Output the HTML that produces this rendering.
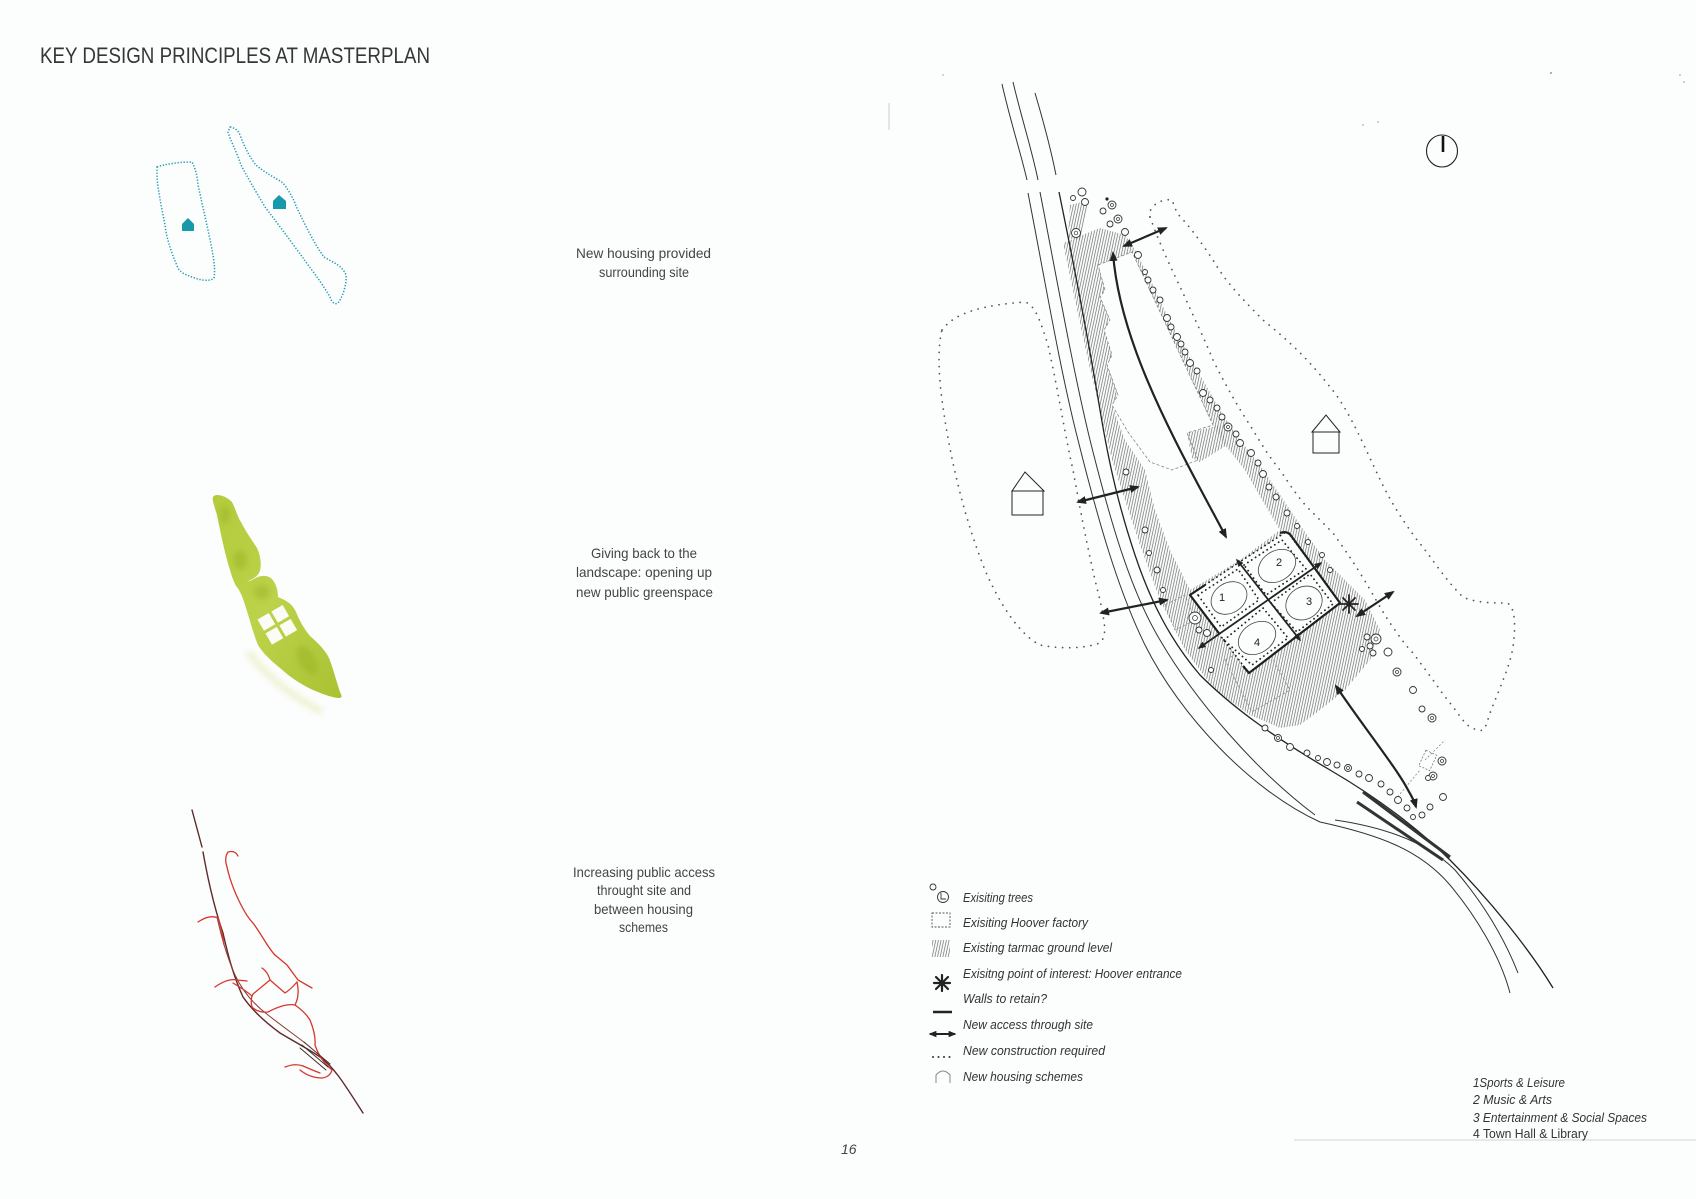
<!DOCTYPE html>
<html><head><meta charset="utf-8"><style>
html,body{margin:0;padding:0;background:#fcfdfd;}
svg{display:block;}
text{font-family:"Liberation Sans",sans-serif;}
</style></head><body>
<svg width="1696" height="1199" viewBox="0 0 1696 1199" xmlns="http://www.w3.org/2000/svg">
<defs>
<pattern id="h" width="2.6" height="8" patternUnits="userSpaceOnUse" patternTransform="rotate(12)">
<line x1="0.6" y1="0" x2="0.6" y2="8" stroke="#6a6a6a" stroke-width="0.7"/>
</pattern>
<marker id="ah" viewBox="0 0 10 8" refX="8" refY="4" markerWidth="10" markerHeight="8" markerUnits="userSpaceOnUse" orient="auto-start-reverse">
<path d="M0,0 L10,4 L0,8 z" fill="#222"/>
</marker>
<marker id="ahs" viewBox="0 0 10 8" refX="8" refY="4" markerWidth="8" markerHeight="6.5" markerUnits="userSpaceOnUse" orient="auto-start-reverse">
<path d="M0,0 L10,4 L0,8 z" fill="#222"/>
</marker>
<linearGradient id="gg" x1="0" y1="0" x2="1" y2="1">
<stop offset="0" stop-color="#b3cb3c"/><stop offset="0.5" stop-color="#bcd24a"/><stop offset="1" stop-color="#a9c232"/>
</linearGradient>
<filter id="bl"><feGaussianBlur stdDeviation="3"/></filter>
</defs>

<rect width="1696" height="1199" fill="#fcfdfd"/>

<!-- Title -->
<text x="40" y="63" font-size="22" fill="#363636" textLength="390" lengthAdjust="spacingAndGlyphs">KEY DESIGN PRINCIPLES AT MASTERPLAN</text>

<!-- Blue housing diagram -->
<g fill="none" stroke="#1f9cb2" stroke-width="1.5" stroke-dasharray="1.3 1.7">
<path d="M157,167 C165,164 180,162 192,162 C196,170 197,175 198,185 L208,230 C212,250 216,265 214,278 C210,282 200,280 195,278 C185,275 180,272 178,268 C170,250 166,235 165,225 C161,205 158,190 157,177 Z"/>
<path d="M230,127 C235,128 238,130 240,135 C245,148 250,158 256,165 C265,173 276,178 283,183 C290,192 294,200 296,206 C305,225 315,245 324,257 C332,262 342,265 346,275 C347,285 342,298 338,303 C334,305 332,302 330,297 C320,280 310,268 303,258 C290,240 275,220 265,207 C255,190 246,175 241,165 C236,150 230,140 228,132 Z"/>
</g>
<path d="M182,231 L182,224 L188,218 L194,224 L194,231 Z" fill="#1798ab"/>
<path d="M273,209 L273,201 L279,195 L286,201 L286,209 Z" fill="#1798ab"/>

<text font-size="14" fill="#444">
<tspan x="576" y="258" textLength="135" lengthAdjust="spacingAndGlyphs">New housing provided</tspan>
</text>
<text x="599" y="277" font-size="14" fill="#444" textLength="90" lengthAdjust="spacingAndGlyphs">surrounding site</text>

<!-- Green diagram -->
<path d="M248,652 C265,675 290,695 322,712" stroke="#e9efc4" stroke-width="7" fill="none" opacity="0.7" filter="url(#bl)"/>
<path d="M213,497 C215,493 225,495 232,502 C236,510 238,518 241,522 C246,532 252,540 257,548 C261,556 262,568 259,573 C256,578 250,580 247,582 L252,580 C258,576 265,574 271,578 C276,583 278,590 278,597 C285,600 292,603 296,612 C300,622 305,630 310,636 C318,643 325,650 329,658 C333,668 336,680 340,692 C342,696 343,698 338,698 C330,697 320,693 313,690 C300,684 290,677 280,668 C270,660 262,652 258,645 C253,633 250,620 246,608 C243,598 240,590 236,586 C232,578 230,570 227,560 C223,545 220,530 217,515 C214,505 212,500 213,497 Z" fill="url(#gg)"/>
<g fill="#94b024" opacity="0.45" filter="url(#bl)">
<ellipse cx="240" cy="560" rx="7" ry="10"/>
<ellipse cx="262" cy="592" rx="8" ry="7"/>
<ellipse cx="307" cy="660" rx="8" ry="16" transform="rotate(-30 307 660)"/>
<ellipse cx="225" cy="515" rx="5" ry="9"/>
</g>
<g fill="#fbfcf6" transform="rotate(-30 278 625)">
<rect x="263" y="610" width="13" height="13"/>
<rect x="279" y="610" width="13" height="13"/>
<rect x="263" y="626" width="13" height="13"/>
<rect x="279" y="626" width="13" height="13"/>
</g>

<text x="591" y="558" font-size="14" fill="#444" textLength="106" lengthAdjust="spacingAndGlyphs">Giving back to the</text>
<text x="576" y="577" font-size="14" fill="#444" textLength="136" lengthAdjust="spacingAndGlyphs">landscape: opening up</text>
<text x="576" y="597" font-size="14" fill="#444" textLength="137" lengthAdjust="spacingAndGlyphs">new public greenspace</text>

<!-- Red diagram -->
<g fill="none" stroke-linecap="round">
<path d="M192,810 L202,847 M203,852 C208,880 215,910 223,933 C228,955 233,975 243,997 C252,1010 265,1022 280,1033 C295,1042 310,1050 320,1057 C335,1068 345,1085 363,1113" stroke="#5d2b2b" stroke-width="1.4"/>
<path d="M217,917 C221,935 226,955 235,975 C242,990 252,1003 268,1015 C282,1026 296,1036 305,1043" stroke="#8a3a30" stroke-width="1"/>
<g stroke="#d8352c" stroke-width="1.3">
<path d="M198,922 Q210,914 218,918 Q222,930 224,945"/>
<path d="M215,987 Q228,978 237,980 L247,981"/>
<path d="M238,856 Q235,850 228,852 Q224,858 227,867 C232,890 245,915 253,923 C262,935 268,948 275,955"/>
<path d="M275,955 L287,965 L298,980 L312,988"/>
<path d="M262,968 Q268,972 270,980 L285,993 Q290,990 297,982"/>
<path d="M270,980 L253,994 Q250,1000 252,1007 Q258,1013 268,1012 Q285,1003 295,1005 Q305,1012 310,1020 Q316,1035 315,1045 Q320,1060 332,1070 Q330,1077 322,1078 Q310,1078 300,1070"/>
<path d="M233,983 Q245,990 252,996"/>
<path d="M297,982 Q300,995 295,1005"/>
<path d="M285,1067 Q295,1063 303,1066 Q312,1070 320,1073"/>
</g>
<path d="M302,1045 L328,1067 M304,1042 L330,1064 M300,1048 L326,1070" stroke="#4a2a2a" stroke-width="1"/>
</g>

<text x="573" y="877" font-size="14" fill="#444" textLength="142" lengthAdjust="spacingAndGlyphs">Increasing public access</text>
<text x="597" y="895" font-size="14" fill="#444" textLength="94" lengthAdjust="spacingAndGlyphs">throught site and</text>
<text x="594" y="914" font-size="14" fill="#444" textLength="99" lengthAdjust="spacingAndGlyphs">between housing</text>
<text x="619" y="932" font-size="14" fill="#444" textLength="49" lengthAdjust="spacingAndGlyphs">schemes</text>

<text x="841" y="1154" font-size="14" font-style="italic" fill="#444">16</text>

<!-- ===== MAP ===== -->
<!-- hatch -->
<path fill-rule="evenodd" fill="url(#h)" d="M1063,243 L1075,300 L1088,360 L1100,410 L1112,460 L1125,500 L1140,545 L1160,600 L1185,650 L1215,690 L1250,715 L1280,728 L1300,725 L1320,710 L1345,690 L1370,660 L1380,630 L1365,600 L1345,580 L1325,560 L1300,525 L1280,495 L1260,465 L1240,440 L1220,410 L1200,375 L1180,340 L1162,305 L1148,275 L1135,250 L1125,235 L1100,228 Z
M1098,265 L1132,252 L1213,425 L1225,445 L1245,470 L1262,500 L1280,530 L1240,560 L1190,590 L1170,550 L1155,510 L1145,470 L1125,440 L1112,405 L1118,395 L1107,365 L1112,355 L1104,330 L1110,320 L1100,297 L1105,290 Z"/>
<path fill="url(#h)" d="M1187,433 L1220,425 L1227,445 L1200,462 L1192,458 Z"/>
<path fill="url(#h)" d="M1070,205 L1090,200 L1080,240 L1068,238 Z"/>

<!-- factory outline -->
<path d="M1098,265 L1132,252 L1213,425 L1187,433 L1198,460 L1172,470 L1150,462 L1128,432 L1112,405 L1118,395 L1107,365 L1112,355 L1104,330 L1110,320 L1100,297 L1105,290 Z" fill="none" stroke="#777" stroke-width="0.7" stroke-dasharray="3 2"/>
<path d="M1225,660 L1262,640 L1290,690 L1252,712 Z" fill="none" stroke="#888" stroke-width="0.7" stroke-dasharray="3 2"/>
<path d="M1165,605 L1185,595 L1195,620 L1175,630 Z" fill="none" stroke="#888" stroke-width="0.7" stroke-dasharray="3 2"/>

<!-- road lines -->
<g fill="none" stroke="#333" stroke-width="1">
<path d="M1002,84 C1010,120 1020,150 1027,180"/>
<path d="M1013,82 C1022,120 1032,150 1038,180"/>
<path d="M1035,93 C1043,120 1051,150 1056,175"/>
<path d="M1028,193 C1045,280 1060,370 1078,440 C1098,520 1118,590 1145,645 C1180,715 1250,790 1320,822 C1380,835 1420,850 1450,885 C1475,915 1500,955 1510,993"/>
<path d="M1040,192 C1057,280 1073,370 1090,440 C1110,520 1130,590 1160,640 C1195,700 1255,770 1315,815"/>
<path d="M1335,820 C1390,828 1430,845 1455,870 C1485,905 1505,940 1518,973"/>
<path d="M1059,192 C1075,270 1090,350 1100,410 C1110,470 1120,510 1135,555 C1150,600 1170,640 1200,675 C1230,705 1270,735 1330,770 C1390,805 1430,840 1450,860 C1490,900 1530,950 1553,988" stroke="#222" stroke-width="1.3"/>
</g>
<path d="M1363,792 L1450,857 M1357,802 L1443,860" stroke="#333" stroke-width="3" fill="none"/>
<path d="M889,103 L889,130" stroke="#ccc" stroke-width="1"/>

<!-- dotted boundaries -->
<g fill="none" stroke="#555" stroke-width="1.7" stroke-linecap="round" stroke-dasharray="0.1 7">
<path d="M942,330 C955,312 985,305 1025,302 C1035,305 1040,320 1048,345 C1058,390 1066,440 1073,470 C1082,520 1092,570 1100,600 C1104,620 1108,635 1100,643 C1080,650 1055,648 1040,645 C1020,635 1000,605 985,570 C965,520 950,460 942,400 C938,370 938,345 942,330"/>
<path d="M1150,217 C1147,208 1160,198 1172,200 L1177,213 C1185,222 1193,230 1213,260 C1222,275 1230,287 1263,320 C1285,338 1305,355 1330,387 C1347,407 1360,437 1377,473 C1385,490 1393,507 1417,540 C1430,555 1445,580 1463,597 C1475,603 1495,603 1507,603 C1515,606 1516,625 1513,647 C1510,665 1503,680 1490,713 C1487,722 1485,730 1483,730"/>
<path d="M1150,217 C1160,245 1172,270 1183,293 C1195,320 1205,340 1213,360 C1228,390 1240,410 1253,430 C1262,445 1270,458 1280,470 C1290,485 1298,497 1307,507 C1318,518 1325,525 1333,533 C1345,550 1352,560 1360,573 C1372,592 1380,608 1390,623 C1400,637 1405,645 1413,653 C1422,665 1427,672 1433,680 C1440,690 1445,697 1450,703 C1458,713 1463,722 1470,727 C1476,730 1480,731 1483,730"/>
</g>
<path d="M1425,760 L1445,740 M1395,800 L1420,770" stroke="#888" stroke-width="0.8" stroke-dasharray="2 2" fill="none"/>
<rect x="1422" y="752" width="12" height="17" fill="none" stroke="#777" stroke-width="0.8" stroke-dasharray="2 1.5" transform="rotate(25 1428 760)"/>

<!-- trees -->
<g fill="#fcfdfd" stroke="#333" stroke-width="0.9">
<circle cx="1082" cy="192" r="4"/><circle cx="1085" cy="202" r="3.5"/><circle cx="1073" cy="198" r="2.5"/><circle cx="1076" cy="233" r="4.5"/>
<circle cx="1112" cy="205" r="4"/><circle cx="1103" cy="211" r="3"/><circle cx="1118" cy="219" r="4"/><circle cx="1110" cy="224" r="3"/><circle cx="1125" cy="232" r="3.5"/>
<circle cx="1138" cy="255" r="3.5"/><circle cx="1145" cy="272" r="2.5"/><circle cx="1148" cy="280" r="3"/><circle cx="1153" cy="290" r="3"/><circle cx="1160" cy="300" r="3"/>
<circle cx="1167" cy="318" r="3.5"/><circle cx="1171" cy="327" r="3"/><circle cx="1177" cy="337" r="3.5"/><circle cx="1181" cy="344" r="3"/><circle cx="1185" cy="352" r="3"/>
<circle cx="1190" cy="363" r="3.5"/><circle cx="1197" cy="371" r="3"/><circle cx="1203" cy="393" r="3.5"/><circle cx="1210" cy="400" r="3"/><circle cx="1217" cy="408" r="3"/>
<circle cx="1222" cy="417" r="3"/><circle cx="1228" cy="427" r="4"/><circle cx="1236" cy="434" r="3"/><circle cx="1240" cy="443" r="3.5"/><circle cx="1251" cy="453" r="3.5"/>
<circle cx="1258" cy="463" r="3"/><circle cx="1263" cy="474" r="3.5"/><circle cx="1269" cy="487" r="3"/><circle cx="1276" cy="497" r="3"/><circle cx="1287" cy="513" r="3"/>
<circle cx="1297" cy="526" r="2.5"/><circle cx="1308" cy="542" r="2.5"/><circle cx="1322" cy="555" r="2.5"/><circle cx="1330" cy="570" r="2.5"/>
<circle cx="1367" cy="637" r="3"/><circle cx="1376" cy="639" r="5"/><circle cx="1370" cy="646" r="3"/><circle cx="1362" cy="649" r="2.5"/><circle cx="1373" cy="653" r="3"/>
<circle cx="1388" cy="652" r="4"/><circle cx="1397" cy="672" r="4"/><circle cx="1413" cy="690" r="3.5"/><circle cx="1422" cy="709" r="3"/><circle cx="1432" cy="718" r="4"/>
<circle cx="1442" cy="761" r="4"/><circle cx="1433" cy="776" r="4"/><circle cx="1428" cy="778" r="2.5"/><circle cx="1443" cy="797" r="3.5"/><circle cx="1430" cy="807" r="3"/>
<circle cx="1422" cy="815" r="3"/><circle cx="1413" cy="817" r="2.5"/>
<circle cx="1265" cy="728" r="3"/><circle cx="1278" cy="738" r="3.5"/><circle cx="1290" cy="747" r="3.5"/><circle cx="1307" cy="753" r="3"/><circle cx="1318" cy="758" r="2.5"/>
<circle cx="1327" cy="762" r="3.5"/><circle cx="1337" cy="765" r="3"/><circle cx="1348" cy="768" r="3.5"/><circle cx="1359" cy="774" r="3"/><circle cx="1369" cy="778" r="3.5"/>
<circle cx="1381" cy="784" r="3"/><circle cx="1390" cy="792" r="3"/><circle cx="1398" cy="800" r="3.5"/><circle cx="1407" cy="808" r="3"/>
<circle cx="1126" cy="472" r="3"/><circle cx="1145" cy="530" r="3"/><circle cx="1149" cy="553" r="2.5"/><circle cx="1157" cy="570" r="3"/><circle cx="1163" cy="590" r="2.5"/>
<circle cx="1195" cy="618" r="6"/><circle cx="1207" cy="633" r="3.5"/><circle cx="1199" cy="630" r="3"/><circle cx="1211" cy="670" r="2.5"/>
</g>
<g fill="none" stroke="#333" stroke-width="0.7">
<circle cx="1076" cy="233" r="1.8"/><circle cx="1112" cy="205" r="1.5"/><circle cx="1118" cy="219" r="1.5"/><circle cx="1228" cy="427" r="1.5"/><circle cx="1376" cy="639" r="2"/><circle cx="1195" cy="618" r="2.5"/><circle cx="1397" cy="672" r="1.5"/><circle cx="1432" cy="718" r="1.5"/><circle cx="1442" cy="761" r="1.5"/><circle cx="1433" cy="776" r="1.5"/><circle cx="1278" cy="738" r="1.5"/><circle cx="1348" cy="768" r="1.5"/>
</g>
<circle cx="1107" cy="199" r="1.6" fill="#222"/>

<!-- squares -->
<g>
<polygon points="1190,595 1286,532 1340,603 1249,673" fill="#fcfdfd"/>
<g fill="none" stroke="#222" stroke-width="1.8" stroke-dasharray="0.1 4.5" stroke-linecap="round">
<polygon points="1198,595 1238,569 1259,600 1221,627"/>
<polygon points="1244,565 1282,540 1306,569 1266,595"/>
<polygon points="1271,603 1310,574 1333,604 1297,632"/>
<polygon points="1224,640 1263,608 1288,638 1252,665"/>
<path d="M1238,563 L1286,532 M1219,634 L1249,673 M1190,595 L1238,563"/>
</g>
<g fill="none" stroke="#444" stroke-width="0.8">
<ellipse cx="1229" cy="598" rx="19" ry="15" transform="rotate(-33 1229 598)"/>
<ellipse cx="1277" cy="566" rx="20" ry="15" transform="rotate(-33 1277 566)"/>
<ellipse cx="1304" cy="603" rx="19" ry="16" transform="rotate(-33 1304 603)"/>
<ellipse cx="1257" cy="638" rx="20" ry="15" transform="rotate(-33 1257 638)"/>
</g>
<path d="M1205,585 L1190,595 L1219.5,634 M1280,533 Q1288,530 1292,537 L1340,603 L1249,673 L1243,666" fill="none" stroke="#1e1e1e" stroke-width="2.2" stroke-linejoin="round"/>
<path d="M1237,560 L1300,640" stroke="#222" stroke-width="1.8" fill="none" marker-start="url(#ahs)" marker-end="url(#ahs)"/>
<path d="M1321,563 L1199,648" stroke="#222" stroke-width="1.8" fill="none" marker-start="url(#ahs)" marker-end="url(#ahs)"/>
<g font-size="11" fill="#222" text-anchor="middle">
<text x="1222" y="601">1</text><text x="1279" y="566">2</text><text x="1309" y="605">3</text><text x="1257" y="646">4</text>
</g>
</g>

<!-- asterisk -->
<g stroke="#222" stroke-width="1.8" stroke-linecap="round">
<path d="M1349,595 L1349,613 M1340,604 L1358,604 M1343,598 L1355,610 M1355,598 L1343,610"/>
</g>

<!-- arrows -->
<g fill="none" stroke="#222" stroke-width="2.2" marker-start="url(#ah)" marker-end="url(#ah)">
<path d="M1124,246 L1166,228"/>
<path d="M1113,253 C1118,320 1150,390 1175,440 C1195,480 1213,512 1226,537"/>
<path d="M1078,502 L1138,487"/>
<path d="M1101,613 L1167,600"/>
<path d="M1357,616 L1393,592"/>
<path d="M1336,686 C1360,722 1398,770 1408,790 Q1414,800 1416,807"/>
</g>

<!-- houses -->
<g fill="none" stroke="#222" stroke-width="1">
<path d="M1012,491 L1025,472 L1044,491 Z"/>
<rect x="1012" y="491" width="31" height="24"/>
<path d="M1312,432 L1326,415 L1340,432 Z"/>
<rect x="1313" y="432" width="26" height="21"/>
</g>

<!-- compass -->
<ellipse cx="1442" cy="151" rx="15.5" ry="16" fill="none" stroke="#222" stroke-width="1.1"/>
<path d="M1443,136 L1443,152" stroke="#111" stroke-width="2.6"/>

<!-- small stray marks -->
<g fill="#999">
<circle cx="1551" cy="73" r="1"/><circle cx="1680" cy="75" r="0.8"/><circle cx="1684" cy="82" r="0.8"/><circle cx="1363" cy="125" r="0.8"/><circle cx="1378" cy="122" r="0.8"/><circle cx="943" cy="75" r="0.7"/>
</g>

<!-- Legend -->
<g fill="none" stroke="#333" stroke-width="0.9">
<circle cx="933" cy="887" r="3"/><circle cx="943" cy="897" r="5.5"/><path d="M941,893 L941,899 L946,899"/>
<rect x="932" y="913" width="18" height="14" stroke="#555" stroke-dasharray="2 1.5"/>
</g>
<rect x="932" y="940" width="18" height="17" fill="url(#h)"/>
<g stroke="#222" stroke-width="2.2" stroke-linecap="round">
<path d="M942,975 L942,991 M934,983 L950,983 M936,977 L948,989 M948,977 L936,989"/>
</g>
<path d="M933,1012 L952,1012" stroke="#222" stroke-width="2.5"/>
<path d="M930,1034 L955,1034" stroke="#222" stroke-width="2" marker-start="url(#ahs)" marker-end="url(#ahs)"/>
<g fill="#333"><circle cx="933" cy="1057" r="1"/><circle cx="938.5" cy="1057" r="1"/><circle cx="944" cy="1057" r="1"/><circle cx="949.5" cy="1057" r="1"/></g>
<path d="M936,1083 L936,1075 Q943,1067 950,1075 L950,1083" fill="none" stroke="#888" stroke-width="1"/>

<g font-size="13" font-style="italic" fill="#333">
<text x="963" y="902" textLength="70" lengthAdjust="spacingAndGlyphs">Exisiting trees</text>
<text x="963" y="927" textLength="125" lengthAdjust="spacingAndGlyphs">Exisiting Hoover factory</text>
<text x="963" y="952" textLength="149" lengthAdjust="spacingAndGlyphs">Existing tarmac ground level</text>
<text x="963" y="978" textLength="219" lengthAdjust="spacingAndGlyphs">Exisitng point of interest: Hoover entrance</text>
<text x="963" y="1003" textLength="84" lengthAdjust="spacingAndGlyphs">Walls to retain?</text>
<text x="963" y="1029" textLength="130" lengthAdjust="spacingAndGlyphs">New access through site</text>
<text x="963" y="1055" textLength="142" lengthAdjust="spacingAndGlyphs">New construction required</text>
<text x="963" y="1081" textLength="120" lengthAdjust="spacingAndGlyphs">New housing schemes</text>
</g>

<!-- Numbered list -->
<path d="M1294,1140 L1696,1140" stroke="#e2e2e2" stroke-width="1.5"/>
<g font-size="13" fill="#333">
<text x="1473" y="1087" font-style="italic" textLength="92" lengthAdjust="spacingAndGlyphs">1Sports &amp; Leisure</text>
<text x="1473" y="1104" font-style="italic" textLength="79" lengthAdjust="spacingAndGlyphs">2 Music &amp; Arts</text>
<text x="1473" y="1122" font-style="italic" textLength="174" lengthAdjust="spacingAndGlyphs">3 Entertainment &amp; Social Spaces</text>
<text x="1473" y="1138" textLength="115" lengthAdjust="spacingAndGlyphs">4 Town Hall &amp; Library</text>
</g>
</svg>
</body></html>
